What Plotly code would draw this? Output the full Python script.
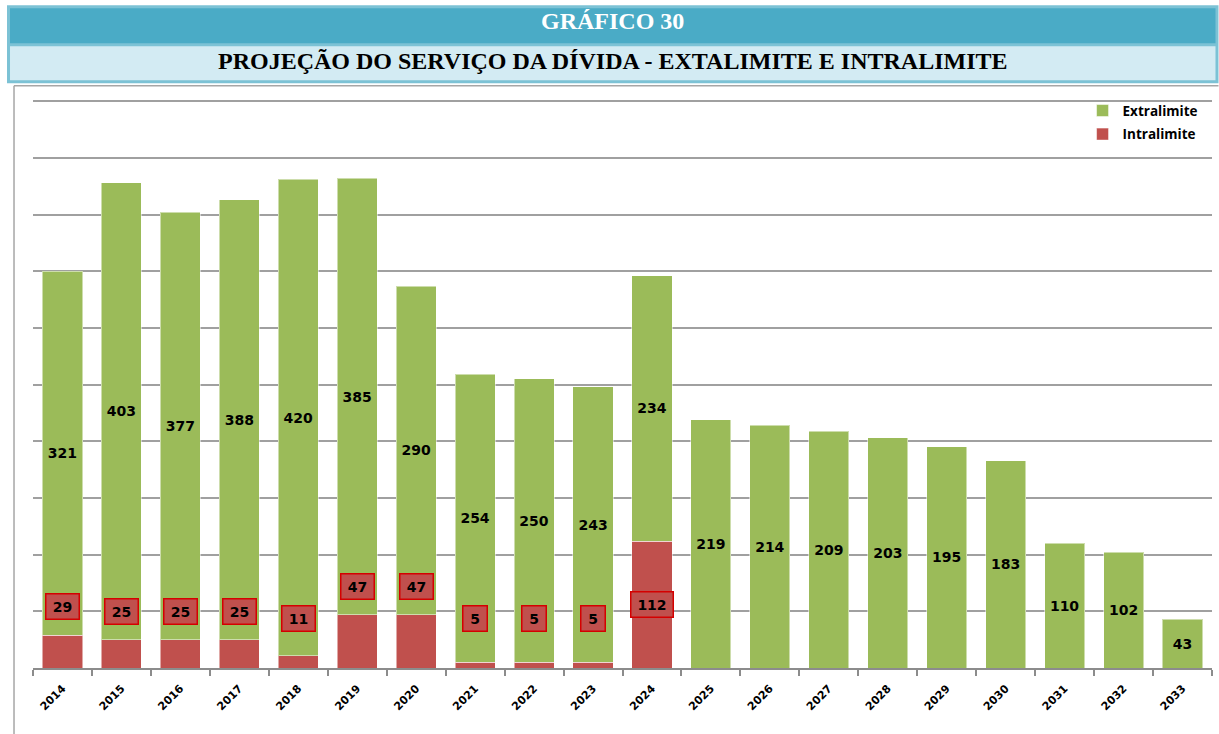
import plotly.graph_objects as go

years = [str(y) for y in range(2014, 2034)]
extralimite = [321, 403, 377, 388, 420, 385, 290, 254, 250, 243, 234,
               219, 214, 209, 203, 195, 183, 110, 102, 43]
intralimite = [29, 25, 25, 25, 11, 47, 47, 5, 5, 5, 112,
               None, None, None, None, None, None, None, None, None]

GREEN = "#9bbb59"
RED = "#c0504d"
LABEL_FONT = dict(family="DejaVu Sans", size=14, color="black", weight="bold")

W, H = 1219, 734
YMAX = 502
PL, PR, PB = 33, 1212.5, 668  # plot area in pixels
PT = PB - 567 * YMAX / 500


def px_x(p):
    return (p - PL) / (PR - PL)


def px_y(p):
    return (PB - p) / (PB - PT)


fig = go.Figure()
fig.add_trace(go.Bar(
    x=years, y=intralimite, name="Intralimite", legendgroup="b", legendrank=2,
    marker=dict(color=RED, line=dict(color="rgba(255,255,255,0.5)", width=1)),
    hoverinfo="x+y",
))
fig.add_trace(go.Bar(
    x=years, y=extralimite, name="Extralimite", legendgroup="a", legendrank=1,
    marker=dict(color=GREEN, line=dict(color="rgba(255,255,255,0.5)", width=1)),
    text=[str(v) for v in extralimite], texttemplate="%{text}",
    textposition="inside", insidetextanchor="middle", textangle=0,
    textfont=LABEL_FONT, hoverinfo="x+y",
))

annotations = []
for i, v in enumerate(intralimite):
    if v is None:
        continue
    ly = v / 2 if v > 60 else max(v + 25, 44)
    annotations.append(dict(
        x=i, y=ly, xref="x", yref="y", text=str(v), showarrow=False,
        xanchor="center", yanchor="middle",
        font=LABEL_FONT, bgcolor=RED, bordercolor="#d40000", borderwidth=1.5,
        borderpad=4, width=9 * len(str(v)) + 6, height=16,
    ))

# Title texts
annotations.append(dict(
    x=px_x(613), y=px_y(21), xref="paper", yref="paper", text="GRÁFICO 30",
    xanchor="center", yanchor="middle", showarrow=False,
    font=dict(family="Liberation Serif", size=24, color="white", weight="bold"),
))
annotations.append(dict(
    x=px_x(613), y=px_y(61), xref="paper", yref="paper",
    text="PROJEÇÃO DO SERVIÇO DA DÍVIDA - EXTALIMITE E INTRALIMITE",
    xanchor="center", yanchor="middle", showarrow=False,
    font=dict(family="Liberation Serif", size=24, color="black", weight="bold"),
))

shapes = [
    # title header frame
    dict(type="rect", xref="paper", yref="paper", x0=px_x(7), x1=px_x(1219),
         y0=px_y(5), y1=px_y(83), fillcolor="#7cc2d5", line=dict(width=0), layer="below"),
    dict(type="rect", xref="paper", yref="paper", x0=px_x(10), x1=px_x(1216),
         y0=px_y(8), y1=px_y(43), fillcolor="#4aabc6", line=dict(width=0), layer="below"),
    dict(type="rect", xref="paper", yref="paper", x0=px_x(10), x1=px_x(1216),
         y0=px_y(46), y1=px_y(80), fillcolor="#d3ebf3", line=dict(width=0), layer="below"),
    # chart outer frame
    dict(type="line", xref="paper", yref="paper", x0=px_x(14), x1=px_x(1219),
         y0=px_y(85.5), y1=px_y(85.5), line=dict(color="#a6a6a6", width=1.5)),
    dict(type="line", xref="paper", yref="paper", x0=px_x(14), x1=px_x(14),
         y0=px_y(85.5), y1=px_y(734), line=dict(color="#a6a6a6", width=1.5)),
]

fig.update_layout(
    width=W, height=H,
    margin=dict(l=PL, r=W - PR, t=PT, b=H - PB, pad=0, autoexpand=False),
    barmode="stack", bargap=0.32,
    paper_bgcolor="white", plot_bgcolor="white",
    showlegend=True,
    legend=dict(x=px_x(1083), xanchor="left", y=px_y(95), yanchor="top",
                traceorder="grouped", tracegroupgap=3,
                font=dict(family="Open Sans", size=13.5, color="black", weight="bold"),
                bgcolor="rgba(0,0,0,0)", itemwidth=30),
    xaxis=dict(type="category", showline=True, linecolor="#8c8c8c", linewidth=1.5,
               ticks="outside", tickson="boundaries", ticklen=6, tickcolor="#8c8c8c",
               tickwidth=1.5, tickangle=-45, showgrid=False, automargin=False,
               ticklabelstandoff=8,
               tickfont=dict(family="DejaVu Sans", size=11, color="black", weight="bold")),
    yaxis=dict(range=[0, YMAX], dtick=50, showgrid=True, gridcolor="#a0a0a0", gridwidth=1.5,
               showticklabels=False, zeroline=False, showline=False, automargin=False),
    annotations=annotations, shapes=shapes,
)

fig.write_html("out.html", config={"displayModeBar": False},
               post_script="document.body.style.margin='0';")
